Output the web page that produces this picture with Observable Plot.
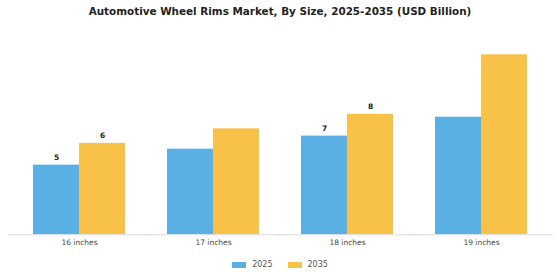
<!DOCTYPE html>
<html>
<head>
<meta charset="utf-8">
<script src="https://cdn.jsdelivr.net/npm/d3@7"></script>
<script src="https://cdn.jsdelivr.net/npm/@observablehq/plot@0.6"></script>
<style>
  body { margin: 0; background: #fff; font-family: "DejaVu Sans", sans-serif; }
  #wrap { width: 560px; height: 280px; overflow: hidden; }
  #title { height: 22px; line-height: 22px; text-align: center; font-weight: bold; font-size: 10.4px; color: #222; }
  #chart { height: 226px; }
  #legend { display: flex; justify-content: center; align-items: center; gap: 15px; font-size: 8px; line-height: 10px; color: #555; margin-top: 12px; }
  .item { display: flex; align-items: center; gap: 6px; }
  .sw { width: 14px; height: 6px; display: inline-block; }
</style>
</head>
<body>
<div id="wrap">
  <div id="title">Automotive Wheel Rims Market, By Size, 2025-2035 (USD Billion)</div>
  <div id="chart"></div>
  <div id="legend"></div>
</div>
<script>
const categories = ["16 inches", "17 inches", "18 inches", "19 inches"];
const seriesNames = ["2025", "2035"];
const values2025 = [4.8, 5.9, 6.8, 8.1];
const values2035 = [6.3, 7.3, 8.3, 12.4];
const labeledCategories = ["16 inches", "18 inches"];
const colors = ["#5AB0E4", "#F8C249"];

const data = [];
categories.forEach((c, i) => {
  data.push({category: c, series: seriesNames[0], value: values2025[i]});
  data.push({category: c, series: seriesNames[1], value: values2035[i]});
});
const labelData = data.filter(d => labeledCategories.includes(d.category));

const chart = Plot.plot({
  width: 560,
  height: 226,
  marginLeft: 11,
  marginRight: 12,
  marginTop: 12,
  marginBottom: 13.7,
  style: {fontFamily: "DejaVu Sans, sans-serif", background: "transparent"},
  fx: {domain: categories, padding: 0, label: null, axis: "bottom", tickSize: 0, tickPadding: 5},
  x: {domain: seriesNames, paddingInner: 0, paddingOuter: 0.438, axis: null},
  y: {domain: [0, 13.8], axis: null},
  color: {domain: seriesNames, range: colors},
  marks: [
    Plot.barY(data, {fx: "category", x: "series", y: "value", fill: "series"}),
    Plot.ruleY([0], {stroke: "#ddd", strokeWidth: 1, insetLeft: -4, insetRight: -5}),
    Plot.text(labelData, {fx: "category", x: "series", y: "value", text: d => d3.format(".0f")(d.value), dy: -7.5, fontWeight: "bold", fontSize: 7.5, fill: "#222"})
  ]
});
chart.querySelectorAll("g[aria-label='fx-axis tick label'] text, g[aria-label='fx-axis tick label']").forEach(e => { e.setAttribute("fill", "#444"); e.setAttribute("font-size", "7.5"); });
document.getElementById("chart").appendChild(chart);

const legend = document.getElementById("legend");
seriesNames.forEach((s, i) => {
  const item = document.createElement("span");
  item.className = "item";
  const sw = document.createElement("span");
  sw.className = "sw";
  sw.style.background = colors[i];
  const t = document.createElement("span");
  t.textContent = s;
  item.appendChild(sw);
  item.appendChild(t);
  legend.appendChild(item);
});
</script>
</body>
</html>
